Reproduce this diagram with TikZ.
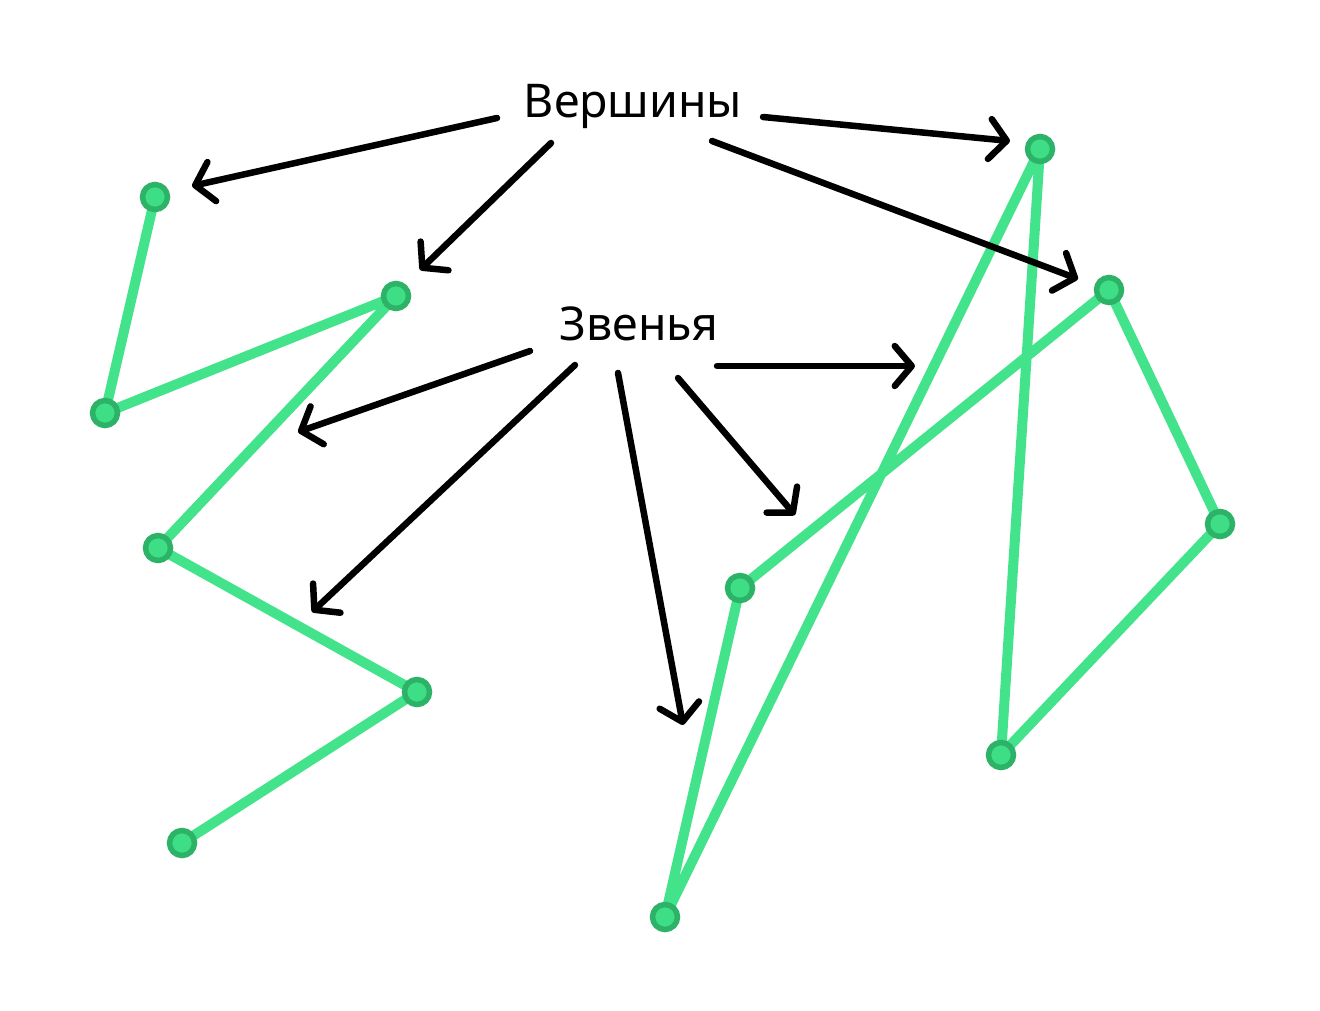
\documentclass[tikz,border=0pt]{standalone}
\usepackage{fontspec}
\setmainfont{Noto Sans}
\usetikzlibrary{arrows.meta}
\definecolor{edgegreen}{RGB}{66,227,138}
\definecolor{vfill}{RGB}{62,222,134}
\definecolor{vdraw}{RGB}{45,179,104}
\pgfdeclarelayer{bg}
\pgfsetlayers{bg,main}
\tikzset{
  vert/.style={circle, fill=vfill, draw=vdraw, line width=5.5pt, minimum size=25pt, inner sep=0pt},
  link/.style={draw=edgegreen, line width=10pt, line join=round},
  pointer/.style={draw=black, line width=6.5pt, line cap=round, line join=round,
    -{Straight Barb[length=17pt, width=40pt, line cap=round, line join=round]}},
  lbl/.style={font=\fontsize{46.5}{50}\selectfont, inner sep=0pt}
}
\begin{document}
\begin{tikzpicture}[x=1pt, y=-1pt]
\useasboundingbox (0,0) rectangle (1320,1011);
% left polyline
\node[vert] (a1) at (155,197) {};
\node[vert] (a2) at (105,413) {};
\node[vert] (a3) at (396,296) {};
\node[vert] (a4) at (158,548) {};
\node[vert] (a5) at (417,692) {};
\node[vert] (a6) at (182,843) {};
% right polyline
\node[vert] (b1) at (1040,149) {};
\node[vert] (b2) at (1109,290) {};
\node[vert] (b3) at (1220,524) {};
\node[vert] (b4) at (1001,755) {};
\node[vert] (b5) at (740,588) {};
\node[vert] (b6) at (665,917) {};
\begin{pgfonlayer}{bg}
\draw[link] (a1.center) -- (a2.center) -- (a3.center) -- (a4.center) -- (a5.center) -- (a6.center);
\draw[link] (b4.center) -- (b1.center) -- (b6.center) -- (b5.center) -- (b2.center) -- (b3.center) -- cycle;
\end{pgfonlayer}
% labels
\node[lbl] (v) at (633,106) {Вершины};
\node[lbl] (z) at (639,324) {Звенья};
% coordinates for arrow starts and tips
\coordinate (v1s) at (497,118); \coordinate (v1t) at (192,186);
\coordinate (v2s) at (551,143); \coordinate (v2t) at (420,270);
\coordinate (v3s) at (763,117); \coordinate (v3t) at (1010,141);
\coordinate (v4s) at (712,141); \coordinate (v4t) at (1078,279);
\coordinate (z1s) at (530,351); \coordinate (z1t) at (298,432);
\coordinate (z2s) at (575,365); \coordinate (z2t) at (312,612);
\coordinate (z3s) at (618,373); \coordinate (z3t) at (683,725);
\coordinate (z4s) at (678,378); \coordinate (z4t) at (795,515);
\coordinate (z5s) at (717,366); \coordinate (z5t) at (915,366);
\draw[pointer] (v1s) -- (v1t);
\draw[pointer] (v2s) -- (v2t);
\draw[pointer] (v3s) -- (v3t);
\draw[pointer] (v4s) -- (v4t);
\draw[pointer] (z1s) -- (z1t);
\draw[pointer] (z2s) -- (z2t);
\draw[pointer] (z3s) -- (z3t);
\draw[pointer] (z4s) -- (z4t);
\draw[pointer] (z5s) -- (z5t);
\end{tikzpicture}
\end{document}
